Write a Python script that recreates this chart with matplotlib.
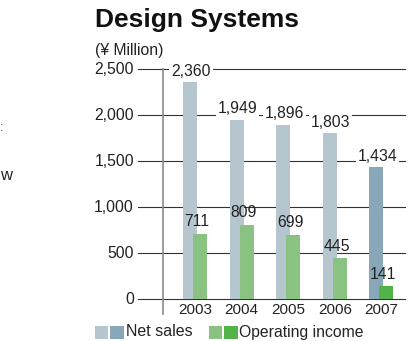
import matplotlib
matplotlib.use("Agg")
import matplotlib.pyplot as plt
from matplotlib.patches import Rectangle
from matplotlib.transforms import blended_transform_factory

plt.rcParams['font.family'] = ['Liberation Sans', 'DejaVu Sans']

years = ["2003", "2004", "2005", "2006", "2007"]
net_sales = [2360, 1949, 1896, 1803, 1434]
operating_income = [711, 809, 699, 445, 141]
yticks = [0, 500, 1000, 1500, 2000, 2500]
ytick_labels = ["0", "500", "1,000", "1,500", "2,000", "2,500"]

W, H = 410, 341
fig = plt.figure(figsize=(W / 100, H / 100), dpi=100)

def fx(px):
    return px / W

def fy(py):
    return 1 - py / H

ax_l, ax_r, ax_b, ax_t = 163, 405, 299.3, 69.3
ax = fig.add_axes([fx(ax_l), fy(ax_b), fx(ax_r - ax_l), fy(ax_t) - fy(ax_b)])
ax.set_ylim(0, 2500)
step = 46.6
ax.set_xlim((ax_l - 195) / step, (ax_r - 195) / step)
for s in ax.spines.values():
    s.set_visible(False)
ax.set_xticks([])
ax.set_yticks([])
ax.patch.set_alpha(0)

sales_colors = ["#b5c6ce"] * 4 + ["#88a8ba"]
oi_colors = ["#8ac282"] * 4 + ["#52b348"]
x = list(range(len(years)))
bw = 14 / step
off = 5 / step

# gridlines
axw = ax_r - ax_l
for t in yticks:
    ax.axhline(t, xmin=-(ax_l - 138) / axw, xmax=1, color="#333333", lw=0.8,
               clip_on=False, zorder=1)
# vertical axis
ax.axvline(ax.get_xlim()[0], ymin=-(314 - ax_b) / (ax_b - ax_t), ymax=1,
           color="#8a8a8a", lw=1.2, clip_on=False, zorder=2)

ax.bar([i - off for i in x], net_sales, width=bw, color=sales_colors, zorder=3)
ax.bar([i + off for i in x], operating_income, width=bw, color=oi_colors, zorder=4)

bbox = dict(boxstyle="square,pad=0.12", fc="white", ec="none")
for i, v in enumerate(net_sales):
    ax.annotate(f"{v:,}", (i - off, v), xytext=(1, 11), textcoords="offset pixels",
                ha="center", va="center", fontsize=11.3, color="#222222",
                bbox=bbox, zorder=5, annotation_clip=False)
for i, v in enumerate(operating_income):
    ax.annotate(f"{v:,}", (i + off, v), xytext=(-3, 12), textcoords="offset pixels",
                ha="center", va="center", fontsize=11.3, color="#222222",
                zorder=5, annotation_clip=False)

trans_y = blended_transform_factory(ax.transAxes, ax.transData)
for t, lab in zip(yticks, ytick_labels):
    ax.text(-(ax_l - 134) / axw, t, lab, transform=trans_y, ha="right", va="center",
            fontsize=11.3, color="#222222")

trans_x = blended_transform_factory(ax.transData, ax.transAxes)
for i, lab in enumerate(years):
    ax.text(i, -(310 - ax_b) / (ax_b - ax_t), lab, transform=trans_x, ha="center",
            va="center", fontsize=11, color="#222222",
            family=['Liberation Sans Narrow', 'Liberation Sans'])

# title and unit
fig.text(fx(95), fy(27), "Design Systems", fontsize=19, fontweight="bold",
         ha="left", va="baseline", color="#111111")
fig.text(fx(95), fy(50), "(\u00a5 Million)", fontsize=11.3, ha="left", va="center",
         color="#222222")

# legend
def sq(px, color):
    fig.add_artist(Rectangle((fx(px), fy(338.5)), fx(13.5), fy(325.5) - fy(338.5),
                             transform=fig.transFigure, color=color, lw=0))

sq(95, "#b5c6ce")
sq(110, "#88a8ba")
fig.text(fx(126), fy(332), "Net sales", fontsize=11.5, ha="left", va="center",
         color="#222222")
sq(209, "#8ac282")
sq(224, "#52b348")
fig.text(fx(239), fy(332), "Operating income", fontsize=11.3, ha="left", va="center",
         color="#222222")

# fragments of neighbouring text at the left edge
fig.text(fx(0), fy(175), "w", fontsize=12, ha="left", va="center", color="#222222")
fig.text(fx(0), fy(128), ":", fontsize=9, ha="left", va="center", color="#444444")

fig.savefig("out.png", dpi=100)
